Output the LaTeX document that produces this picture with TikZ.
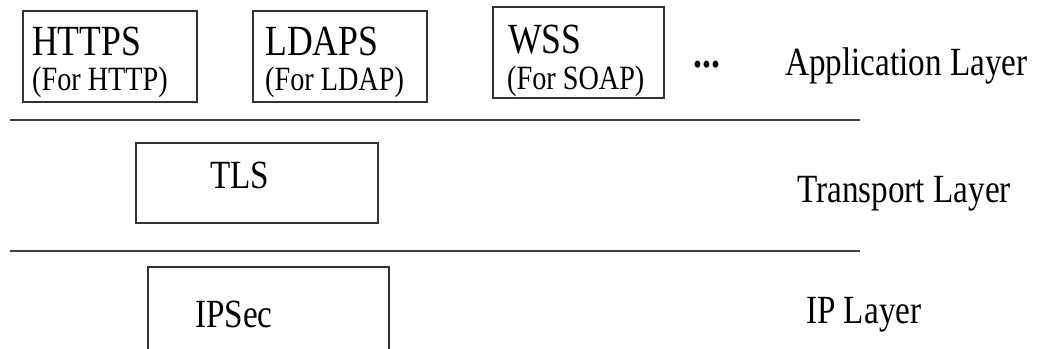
\documentclass[tikz,border=0pt]{standalone}
\usepackage{fontspec}
\setmainfont{Liberation Serif}[FakeStretch=0.83]
\begin{document}
\begin{tikzpicture}[x=1pt,y=-1pt,
  frame/.style={draw=black!80,line width=1.4pt},
  rule/.style={draw=black!75,line width=1.4pt},
  big/.style={inner sep=0pt,anchor=base west,font=\fontsize{43}{43}\selectfont},
  small/.style={inner sep=0pt,anchor=base west,font=\fontsize{34}{34}\selectfont},
  layer/.style={inner sep=0pt,anchor=base west,font=\fontsize{40}{40}\selectfont}]
\useasboundingbox (0,0) rectangle (1038,348);
\clip (0,0) rectangle (1038,348);
% protocol boxes
\draw[frame] (23,11) rectangle (197,102);
\draw[frame] (253,11) rectangle (427,102);
\draw[frame] (493,7) rectangle (664,98);
\draw[frame] (136,143) rectangle (378,223);
\draw[frame] (148,380) rectangle (389,267);
% layer separators
\coordinate (r1a) at (10,120); \coordinate (r1b) at (860,120);
\coordinate (r2a) at (10,251); \coordinate (r2b) at (860,251);
\draw[rule] (r1a) -- (r1b);
\draw[rule] (r2a) -- (r2b);
% application layer
\node[big]   (https) at (32,55) {HTTPS};
\node[small] (fhttp) at (32,90) {(For HTTP)};
\node[big]   (ldaps) at (265,55) {LDAPS};
\node[small] (fldap) at (265,90) {(For LDAP)};
\node[big]   (wss)   at (508,53) {WSS};
\node[small] (fsoap) at (507,89) {(For SOAP)};
\node[inner sep=0pt,anchor=base west,font=\fontsize{43}{43}\selectfont\bfseries] (dots) at (693,67) {...};
\node[layer] (app) at (785,75) {Application Layer};
% transport layer
\node[layer] (tls) at (210,188) {TLS};
\node[layer] (tra) at (797,202) {Transport Layer};
% ip layer
\node[layer] (ipsec) at (195,327) {IPSec};
\node[layer] (ipl) at (806,323) {IP Layer};
\end{tikzpicture}
\end{document}
